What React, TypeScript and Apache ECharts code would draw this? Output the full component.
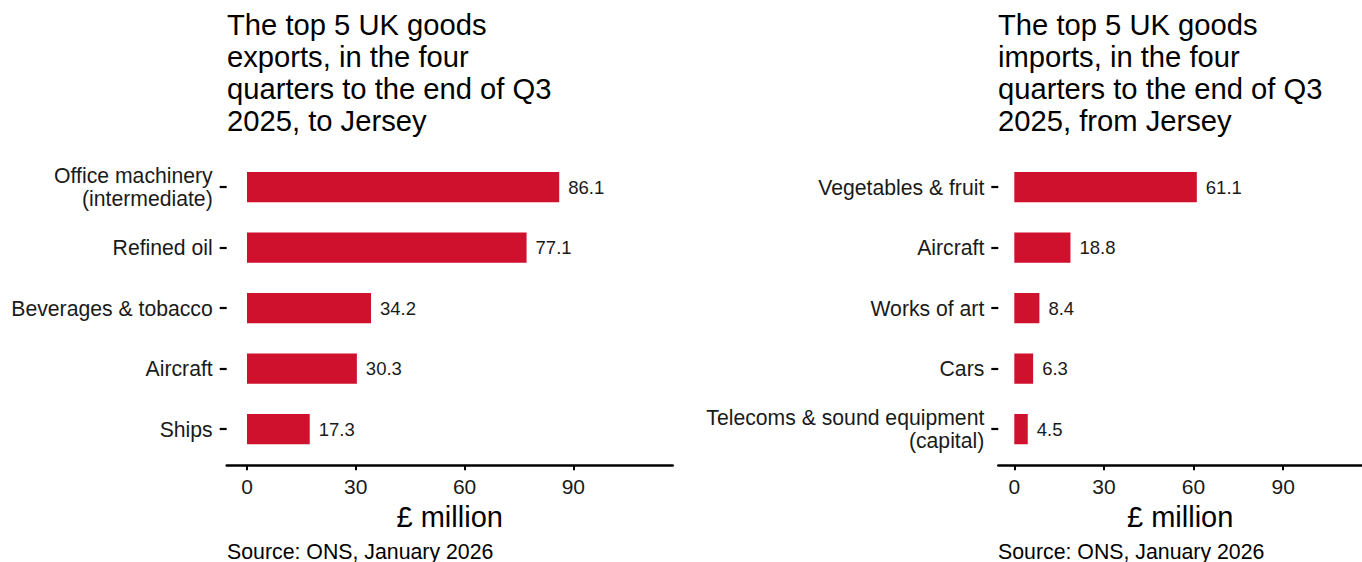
import React, { useEffect, useRef } from "react";
import * as echarts from "echarts";

const exportCategories = [
  "Office machinery\n(intermediate)",
  "Refined oil",
  "Beverages & tobacco",
  "Aircraft",
  "Ships",
];
const exportValues = [86.1, 77.1, 34.2, 30.3, 17.3];

const importCategories = [
  "Vegetables & fruit",
  "Aircraft",
  "Works of art",
  "Cars",
  "Telecoms & sound equipment\n(capital)",
];
const importValues = [61.1, 18.8, 8.4, 6.3, 4.5];

const xTickValues = [0, 30, 60, 90];

const exportTitle =
  "The top 5 UK goods\nexports, in the four\nquarters to the end of Q3\n2025, to Jersey";
const importTitle =
  "The top 5 UK goods\nimports, in the four\nquarters to the end of Q3\n2025, from Jersey";
const sourceText = "Source: ONS, January 2026";
const axisName = "£ million";

const FONT = "'Liberation Sans', Arial, sans-serif";
const BAR_COLOR = "#d0112d";

export default function App() {
  const ref = useRef<HTMLDivElement>(null);

  useEffect(() => {
    if (!ref.current) return;
    const chart = echarts.init(ref.current, null, { renderer: "svg" });

    const makeX = (gridIndex: number, min: number, max: number) => ({
      type: "value",
      gridIndex,
      min,
      max,
      offset: 6,
      splitLine: { show: false },
      axisLine: { show: true, lineStyle: { color: "#000", width: 2.5 } },
      axisTick: {
        show: true,
        length: 5,
        lineStyle: { color: "#000", width: 2 },
        customValues: xTickValues,
      },
      axisLabel: {
        color: "#1a1a1a",
        fontSize: 21,
        fontFamily: FONT,
        margin: 11,
        customValues: xTickValues,
      },
      name: axisName,
      nameLocation: "middle",
      nameGap: 35,
      nameTextStyle: { color: "#000", fontSize: 29, fontFamily: FONT },
    });

    const makeY = (gridIndex: number, cats: string[]) => ({
      type: "category",
      gridIndex,
      data: cats,
      inverse: true,
      axisLine: { show: false, onZero: false },
      axisTick: {
        show: true,
        alignWithLabel: true,
        length: 7,
        lineStyle: { color: "#000", width: 2.2 },
      },
      axisLabel: {
        color: "#1a1a1a",
        fontSize: 21.2,
        lineHeight: 23,
        fontFamily: FONT,
        margin: 14,
        align: "right",
      },
      splitLine: { show: false },
    });

    const makeSeries = (idx: number, values: number[]) => ({
      type: "bar",
      xAxisIndex: idx,
      yAxisIndex: idx,
      data: values,
      barWidth: "50%",
      itemStyle: { color: BAR_COLOR },
      label: {
        show: true,
        position: "right",
        distance: 9,
        color: "#1a1a1a",
        fontSize: 18.5,
        fontFamily: FONT,
        formatter: (p: any) => Number(p.value).toFixed(1),
      },
    });

    const titleStyle = {
      fontSize: 29.2,
      lineHeight: 32,
      fontWeight: "normal",
      color: "#000",
      fontFamily: FONT,
    };

    chart.setOption({
      animation: false,
      backgroundColor: "#ffffff",
      title: [
        { text: exportTitle, left: 227, top: 9, padding: 0, textStyle: titleStyle },
        { text: importTitle, left: 998, top: 9, padding: 0, textStyle: titleStyle },
      ],
      grid: [
        { left: 226.7, top: 156.75, width: 446, height: 302.5, containLabel: false },
        { left: 998.3, top: 156.75, width: 363.7, height: 302.5, containLabel: false },
      ],
      xAxis: [makeX(0, -5.6, 117.4), makeX(1, -5.36, 116.4)],
      yAxis: [makeY(0, exportCategories), makeY(1, importCategories)],
      series: [makeSeries(0, exportValues), makeSeries(1, importValues)],
      graphic: [
        {
          type: "text",
          left: 227,
          top: 541,
          style: { text: sourceText, fontSize: 21.3, fontFamily: FONT, fill: "#000" },
        },
        {
          type: "text",
          left: 998,
          top: 541,
          style: { text: sourceText, fontSize: 21.3, fontFamily: FONT, fill: "#000" },
        },
      ],
    });

    return () => chart.dispose();
  }, []);

  return (
    <div
      ref={ref}
      style={{ position: "absolute", left: 0, top: 0, width: 1362, height: 562 }}
    />
  );
}
